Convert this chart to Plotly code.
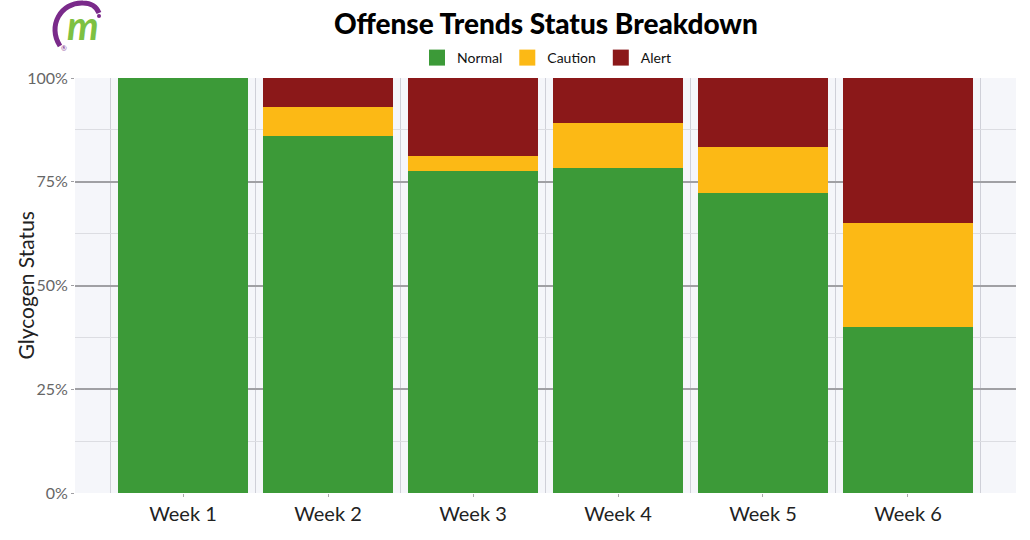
import plotly.graph_objects as go

weeks = ["Week 1", "Week 2", "Week 3", "Week 4", "Week 5", "Week 6"]
normal = [100, 86.0, 77.7, 78.3, 72.2, 40.0]
caution = [0, 7.0, 3.4, 10.9, 11.1, 25.0]
alert = [0, 7.0, 18.9, 10.8, 16.7, 35.0]

series = [("Normal", normal, "#3c9a38"), ("Caution", caution, "#fcb915"), ("Alert", alert, "#8b1819")]

xpos = list(range(len(weeks)))

fig = go.Figure()
for name, vals, col in series:
    fig.add_trace(go.Bar(x=xpos, y=vals, name=name, marker=dict(color=col, line=dict(width=0)),
                         width=0.895, showlegend=False))
# legend entries with larger square swatches
for name, vals, col in series:
    fig.add_trace(go.Scatter(x=[None], y=[None], mode="markers", name=name,
                             marker=dict(symbol="square", size=16, color=col)))

W, H = 1030, 540
L, R, T, B = 75, 14, 78, 47
pw, ph = W - L - R, H - T - B

def px(x):
    return (x - L) / pw

def py(y):
    return (H - B - y) / ph

def pth(segs):
    out = []
    for cmd, coords in segs:
        out.append(cmd + " " + " ".join("{:.5f},{:.5f}".format(px(a), py(b)) for a, b in coords))
    return " ".join(out)

arc = pth([("M", [(60, 46)]), ("C", [(47, 26), (61, 2), (83, 3)]), ("C", [(92, 3), (97, 8), (99, 13)])])
shapes = [dict(type="path", path=arc, xref="paper", yref="paper", line=dict(color="#7a2a8a", width=5),
               layer="above"),
          dict(type="circle", xref="paper", yref="paper", x0=px(97), x1=px(101), y0=py(14), y1=py(18),
               fillcolor="#7a2a8a", line=dict(width=0), layer="above")]

fig.update_layout(
    width=W, height=H,
    margin=dict(l=L, r=R, t=T, b=B, autoexpand=False),
    paper_bgcolor="white",
    plot_bgcolor="#f5f6fa",
    barmode="stack",
    bargap=0,
    font=dict(family="Lato", color="#222"),
    title=dict(text="Offense Trends Status Breakdown", x=0.53, xanchor="center", yref="container",
               y=1 - 24 / 540, yanchor="middle",
               font=dict(family="Lato", size=28, color="#000", weight=900)),
    legend=dict(orientation="h", x=px(547), xanchor="center", yref="container", y=1 - 58 / 540,
                yanchor="middle", traceorder="normal", font=dict(size=14, color="#111"),
                itemwidth=30, bgcolor="rgba(0,0,0,0)"),
    xaxis=dict(range=[-0.745, 5.745], tickvals=xpos, ticktext=weeks, showgrid=False, zeroline=False,
               ticks="outside", ticklen=3, tickcolor="#aaa", tickfont=dict(size=20, color="#222"),
               showline=False, automargin=False,
               minor=dict(tickvals=[i - 0.5 for i in range(len(weeks) + 1)], showgrid=True,
                          gridcolor="#cfd0d8", gridwidth=1, ticks="")),
    yaxis=dict(range=[0, 100], tickvals=[0, 25, 50, 75, 100], ticktext=["0%", "25%", "50%", "75%", "100%"],
               showgrid=True, gridcolor="#a0a0a4", gridwidth=1.5, zeroline=False, automargin=False,
               ticks="outside", ticklen=3, tickcolor="#a0a0a4", tickfont=dict(size=16, color="#666"),
               minor=dict(tickvals=[12.5, 37.5, 62.5, 87.5], showgrid=True, gridcolor="#dcdde2", gridwidth=1)),
    shapes=shapes,
    annotations=[dict(text="Glycogen Status", x=px(25), y=0.5, xref="paper", yref="paper", textangle=-90,
                      showarrow=False, font=dict(size=21, color="#222"), xanchor="center", yanchor="middle"),
                 dict(text="<b><i>m</i></b>", x=px(83), y=py(25), xref="paper", yref="paper",
                      showarrow=False, font=dict(family="Lato", size=40, color="#7dc142"),
                      xanchor="center", yanchor="middle"),
                 dict(text="®", x=px(64), y=py(48), xref="paper", yref="paper", showarrow=False,
                      font=dict(size=7, color="#7a2a8a"), xanchor="center", yanchor="middle")],
)

fig.write_html("out.html", config={"displayModeBar": False},
               post_script="document.body.style.margin='0';")
